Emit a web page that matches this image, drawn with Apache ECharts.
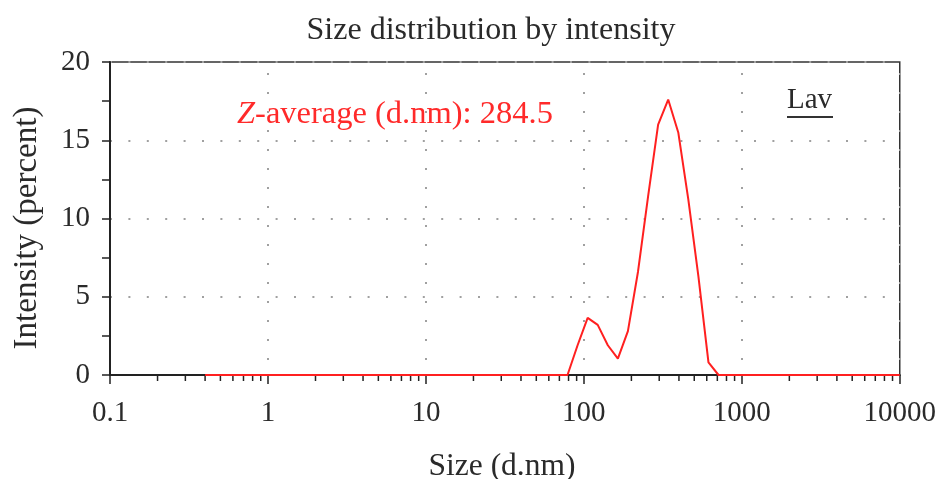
<!DOCTYPE html>
<html>
<head>
<meta charset="utf-8">
<script src="https://cdn.jsdelivr.net/npm/echarts@6/dist/echarts.min.js"></script>
<style>
html,body{margin:0;padding:0;background:#fff;}
#chart{width:939px;height:479px;}
</style>
</head>
<body>
<div id="chart"></div>
<script>
// Size bins (d.nm)
var sizes = [0.4, 0.4632, 0.5365, 0.6213, 0.7195, 0.8332, 0.9649, 1.117, 1.294, 1.499,
  1.736, 2.010, 2.328, 2.696, 3.122, 3.615, 4.187, 4.849, 5.615, 6.503,
  7.531, 8.721, 10.10, 11.70, 13.54, 15.69, 18.17, 21.04, 24.36, 28.21,
  32.67, 37.84, 43.82, 50.75, 58.77, 68.06, 78.82, 91.28, 105.7, 122.4,
  141.8, 164.2, 190.1, 220.2, 255.0, 295.3, 342.0, 396.1, 458.7, 531.2,
  615.1, 712.4, 825.0, 955.4, 1106, 1281, 1484, 1718, 1990, 2305,
  2669, 3091, 3580, 4145, 4801, 5560, 6439, 7456, 8635, 10000];
// Intensity (percent), series "Lav"
var intensity = [0, 0, 0, 0, 0, 0, 0, 0, 0, 0,
  0, 0, 0, 0, 0, 0, 0, 0, 0, 0,
  0, 0, 0, 0, 0, 0, 0, 0, 0, 0,
  0, 0, 0, 0, 0, 0, 0, 1.9, 3.65, 3.2,
  1.9, 1.05, 2.8, 6.6, 11.4, 16.0, 17.6, 15.5, 11.2, 6.3,
  0.8, 0, 0, 0, 0, 0, 0, 0, 0, 0,
  0, 0, 0, 0, 0, 0, 0, 0, 0, 0];
var seriesName = 'Lav';
var titleText = 'Size distribution by intensity';
var xName = 'Size (d.nm)';
var yName = 'Intensity (percent)';
var zAvgLabel = 'Z';
var zAvgText = '-average (d.nm): 284.5';
var xTickLabels = ['0.1', '1', '10', '100', '1000', '10000'];
var yTicks = [0, 5, 10, 15, 20];
var minorMultipliers = [2, 3, 4, 5, 6, 7, 8, 9];
var decades = [0.1, 1, 10, 100, 1000];

var FONT = '"Liberation Serif", "Times New Roman", serif';
var TXT = '#2a2a2a';

var lineData = sizes.map(function (s, i) { return [s, intensity[i]]; });
var minorTicks = [];
decades.forEach(function (d) {
  minorMultipliers.forEach(function (m) { minorTicks.push([d * m, 0]); });
});

var chart = echarts.init(document.getElementById('chart'), null, {renderer: 'canvas'});
chart.setOption({
  animation: false,
  backgroundColor: '#fff',
  grid: {left: 110, right: 38, top: 62, bottom: 104, show: true, borderColor: '#333', borderWidth: 1.5, containLabel: false},
  xAxis: {
    type: 'log', logBase: 10, min: 0.1, max: 10000,
    axisLine: {show: true, lineStyle: {color: '#222', width: 2}},
    axisTick: {show: true, length: 9, lineStyle: {color: '#222', width: 1.5}},
    axisLabel: {
      show: true, margin: 24, fontSize: 29, fontFamily: FONT, color: TXT,
      formatter: function (v) {
        var s = String(+(+v).toPrecision(6));
        return xTickLabels.indexOf(s) >= 0 ? s : '';
      }
    },
    splitLine: {show: true, lineStyle: {color: '#a0a0a0', width: 2, type: [2, 17], dashOffset: 8}},
    minorTick: {show: false}
  },
  yAxis: {
    type: 'value', min: 0, max: 20, interval: 5,
    axisLine: {show: true, lineStyle: {color: '#222', width: 2}},
    axisTick: {show: true, length: 8, lineStyle: {color: '#222', width: 1.5}},
    minorTick: {show: true, splitNumber: 2, length: 8, lineStyle: {color: '#222', width: 1.5}},
    axisLabel: {show: true, margin: 20, fontSize: 29, fontFamily: FONT, color: TXT},
    splitLine: {show: true, lineStyle: {color: '#a0a0a0', width: 2, type: [2, 16.4], dashOffset: 0}}
  },
  series: [
    {
      name: seriesName, type: 'line', data: lineData, showSymbol: false, symbol: 'none',
      lineStyle: {color: '#ff2020', width: 2}, z: 5, clip: false
    },
    {
      type: 'custom', data: minorTicks, clip: false, silent: true, z: 4,
      renderItem: function (params, api) {
        var p = api.coord([api.value(0), api.value(1)]);
        return {type: 'line', shape: {x1: p[0], y1: p[1] + 1, x2: p[0], y2: p[1] + 6},
          style: {stroke: '#222', lineWidth: 1.5}};
      }
    }
  ],
  graphic: [
    {type: 'text', x: 491, y: 31, style: {text: titleText, font: '32px ' + FONT, fill: TXT, align: 'center', verticalAlign: 'middle'}},
    {type: 'text', x: 502, y: 467, style: {text: xName, font: '31.5px ' + FONT, fill: TXT, align: 'center', verticalAlign: 'middle'}},
    {type: 'text', x: 27, y: 228, rotation: Math.PI / 2, style: {text: yName, font: '33px ' + FONT, fill: TXT, align: 'center', verticalAlign: 'middle'}},
    {type: 'text', x: 237, y: 114, style: {
      text: '{i|' + zAvgLabel + '}{n|' + zAvgText + '}', fill: '#ff2a2a', align: 'left', verticalAlign: 'middle',
      rich: {i: {fontStyle: 'italic', fontSize: 32.5, fontFamily: FONT, fill: '#ff2a2a'}, n: {fontSize: 32.5, fontFamily: FONT, fill: '#ff2a2a'}}
    }},
    {type: 'text', x: 787, y: 100, style: {text: seriesName, font: '29px ' + FONT, fill: TXT, align: 'left', verticalAlign: 'middle'}},
    {type: 'line', shape: {x1: 787, y1: 117, x2: 833, y2: 117}, style: {stroke: '#333', lineWidth: 2}}
  ]
});
</script>
</body>
</html>
